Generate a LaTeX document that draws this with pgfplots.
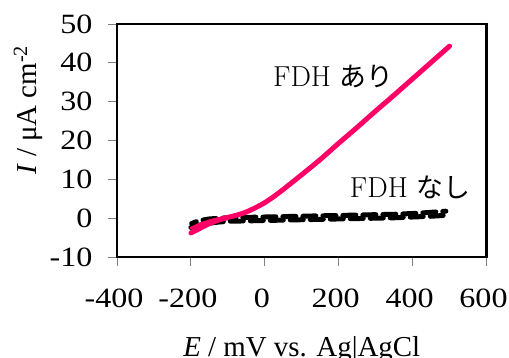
\documentclass[border=0pt]{standalone}
\usepackage{fontspec}
\usepackage{pgfplots}
\pgfplotsset{compat=1.18}
\setmainfont{Liberation Serif}
\newfontfamily\stretchfont{Liberation Serif}[FakeStretch=1.15]
\newfontfamily\lmfont{Latin Modern Roman}
\newfontfamily\jpfont{Noto Sans CJK JP}
\definecolor{pinkline}{RGB}{255,0,102}
\begin{document}
\begin{tikzpicture}
\begin{axis}[
  name=ax,
  at={(0,0)}, anchor=south west,
  scale only axis,
  width=369.5bp, height=233bp,
  xmin=-400, xmax=600, ymin=-10, ymax=50,
  xtick={-400,-200,...,600},
  ytick={-10,0,...,50},
  xtick pos=bottom, ytick pos=left,
  tick align=outside,
  major tick length=9bp,
  tick style={gray, line width=0.8bp},
  axis line style={black, line width=2.2bp},
  /pgf/number format/assume math mode=true,
  ticklabel style={font=\stretchfont\fontsize{28}{30}\selectfont},
  xticklabel style={text height=18bp, text depth=0pt, yshift=-20bp, xshift=-3bp},
  yticklabel style={xshift=-12bp},
  xlabel={\textit{E} / mV vs. Ag|AgCl},
  every axis x label/.style={at={(rel axis cs:0.5,0)}, anchor=base, yshift=-99bp, font=\fontsize{29}{30}\selectfont},
  ylabel={\textit{I} / μA cm\textsuperscript{-2}},
  every axis y label/.style={at={(rel axis cs:0,0.63)}, anchor=center, xshift=-89bp, rotate=90, font=\fontsize{29}{30}\selectfont},
  clip=false,
]
% FDH nashi (two overlapping scans)
\addplot[black, line width=5bp, line cap=round, dash pattern=on 13bp off 7bp] coordinates {
(-200,-2.4) (-175,-1.8) (-150,-1.3) (-125,-1.0) (-100,-0.8) (-50,-0.7) (0,-0.6) (50,-0.5) (100,-0.4) (150,-0.3) (200,-0.2) (250,-0.1) (300,0.0) (350,0.1) (400,0.3) (450,0.5) (485,0.7)
};
\addplot[black, line width=5bp, line cap=round, dash pattern=on 13bp off 7bp, dash phase=8bp] coordinates {
(-198,-1.4) (-180,-0.7) (-150,-0.2) (-120,0.0) (-100,0.1) (-50,0.2) (0,0.3) (50,0.4) (100,0.5) (150,0.6) (200,0.7) (250,0.8) (300,0.9) (350,1.0) (400,1.2) (450,1.5) (490,1.8)
};
% FDH ari
\addplot[pinkline, line width=3bp, line cap=round] coordinates {
(-200,-2.6) (-175,-1.5) (-150,-0.7) (-125,-0.1) (-100,0.4)
};
\addplot[pinkline, line width=5bp, line cap=round, smooth] coordinates {
(-200,-3.8) (-175,-2.6) (-150,-1.4) (-125,-0.5) (-100,0.2) (-75,0.8) (-50,1.6) (-25,2.7) (0,4.0) (25,5.6) (50,7.4) (75,9.3) (100,11.2) (150,15.1) (200,19.3) (250,23.4) (300,27.6) (350,31.7) (400,35.9) (450,40.1) (500,44.3)
};
\node[anchor=base west, inner sep=0pt] at (axis cs:22,33.8) {\lmfont\fontsize{29}{32}\selectfont FDH {\jpfont\fontsize{27}{30}\selectfont あり}};
\node[anchor=base west, inner sep=0pt] at (axis cs:230,5.2) {\lmfont\fontsize{29}{32}\selectfont FDH {\jpfont\fontsize{27}{30}\selectfont なし}};
\end{axis}
\pgfresetboundingbox
\path (ax.south west) ++(-117bp,-101bp) rectangle ++(509bp,358bp);
\end{tikzpicture}
\end{document}
